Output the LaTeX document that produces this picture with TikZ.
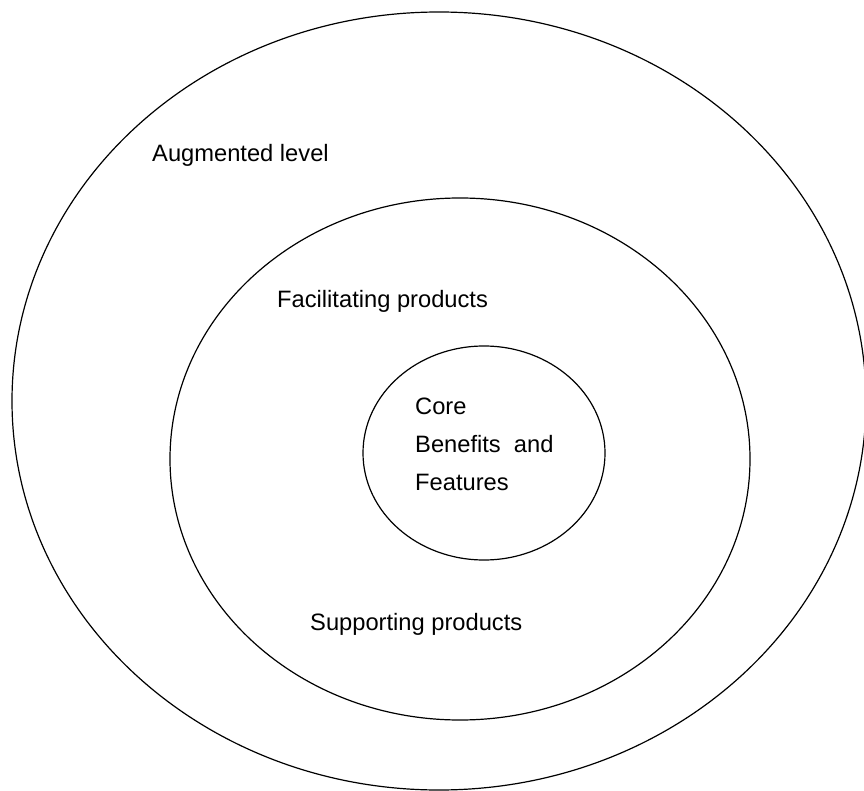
\documentclass[tikz,border=0pt]{standalone}
\usepackage{fontspec}
\setmainfont{Liberation Sans}
\begin{document}
\begin{tikzpicture}[x=1pt,y=-1pt,
        ring/.style={line width=1.2pt},
        lbl/.style={anchor=base west,inner sep=0pt,font=\fontsize{23.7}{28}\selectfont}]
                \useasboundingbox (0,0) rectangle (864,791);
                \draw[ring] (439,401) ellipse [x radius=427,y radius=389];
                \draw[ring] (460,459) ellipse [x radius=290,y radius=261];
                \draw[ring] (484,453) ellipse [x radius=121,y radius=107];
                \node[lbl] (augmented) at (152,162) {Augmented level};
                \node[lbl] (facilitating) at (277,308) {Facilitating products};
                \node[lbl] (core) at (415,414) {Core};
                \node[lbl] (benefits) at (415,452) {Benefits\ \ and};
                \node[lbl] (features) at (415,490) {Features};
                \node[lbl] (supporting) at (310,630) {Supporting products};
            \end{tikzpicture}
\end{document}
